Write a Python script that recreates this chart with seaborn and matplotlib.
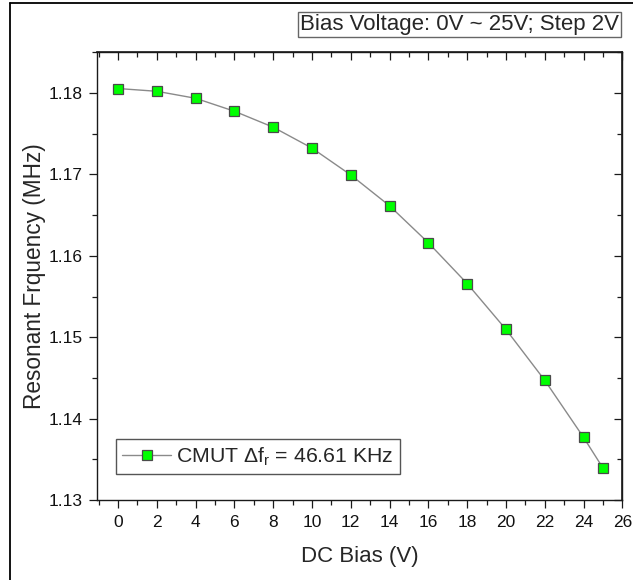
import matplotlib
matplotlib.use("Agg")
import matplotlib.pyplot as plt
from matplotlib.lines import Line2D
from matplotlib.ticker import MultipleLocator
import seaborn as sns
import pandas as pd

# ---- data ----
bias_v = [0, 2, 4, 6, 8, 10, 12, 14, 16, 18, 20, 22, 24, 25]
freq_mhz = [1.18055, 1.18021, 1.17935, 1.17776, 1.17580, 1.17323, 1.16993,
            1.16614, 1.16160, 1.15659, 1.15096, 1.14471, 1.13770, 1.13394]
x_ticks = list(range(0, 27, 2))
y_ticks = [1.13, 1.14, 1.15, 1.16, 1.17, 1.18]
legend_label = r"CMUT $\Delta\mathrm{f}_\mathrm{r}$ = 46.61 KHz"
note_text = "Bias Voltage: 0V ~ 25V; Step 2V"
x_label = "DC Bias (V)"
y_label = "Resonant Frquency (MHz)"

df = pd.DataFrame({"V": bias_v, "f": freq_mhz})

sns.set_theme(style="ticks")
plt.rcParams["font.family"] = ["Liberation Sans", "DejaVu Sans"]
plt.rcParams["mathtext.fontset"] = "custom"
plt.rcParams["mathtext.rm"] = "Liberation Sans"
plt.rcParams["mathtext.it"] = "Liberation Sans:italic"

W, H = 633, 580
fig = plt.figure(figsize=(W / 100, H / 100), dpi=100)
ax = fig.add_axes([96.7 / W, 1 - 500 / H, (622.3 - 96.7) / W, (500 - 52.3) / H])

sns.lineplot(data=df, x="V", y="f", ax=ax, color="#8a8a8a", linewidth=1.0,
             marker="s", markersize=7, markerfacecolor="#00ff00",
             markeredgecolor="#4a4a4a", markeredgewidth=0.9, label=legend_label)

ax.set_xlim(-1.1, 26)
ax.set_ylim(1.13, 1.185)
ax.set_xticks(x_ticks)
ax.set_yticks(y_ticks)
ax.set_yticklabels([f"{v:.2f}" for v in y_ticks])
ax.xaxis.set_minor_locator(MultipleLocator(1))
ax.yaxis.set_minor_locator(MultipleLocator(0.005))

for s in ax.spines.values():
    s.set_visible(True)
    s.set_linewidth(1.0)
    s.set_color("#1a1a1a")

ax.tick_params(which="both", direction="out", bottom=True, left=True,
               top=False, right=False, colors="#1a1a1a", labelsize=12.5,
               width=0.9, labelcolor="#111111")
ax.tick_params(which="major", length=6, pad=4)
ax.tick_params(which="minor", length=3.5)
ax.tick_params(axis="x", which="major", pad=5)

# inward ticks on top and right
axt = ax.secondary_xaxis("top")
axt.set_xticks(x_ticks)
axt.xaxis.set_minor_locator(MultipleLocator(1))
axt.tick_params(which="both", direction="in", labeltop=False, width=0.9, colors="#1a1a1a")
axt.tick_params(which="major", length=6)
axt.tick_params(which="minor", length=3.5)
axr = ax.secondary_yaxis("right")
axr.set_yticks(y_ticks)
axr.yaxis.set_minor_locator(MultipleLocator(0.005))
axr.tick_params(which="both", direction="in", labelright=False, width=0.9, colors="#1a1a1a")
axr.tick_params(which="major", length=6)
axr.tick_params(which="minor", length=3.5)

ax.set_xlabel(x_label, fontsize=16, labelpad=11)
ax.set_ylabel(y_label, fontsize=16.3, labelpad=2)

leg = ax.legend(loc="upper left", bbox_to_anchor=((115.7 - 96.7) / (622.3 - 96.7), (500 - 439) / (500 - 52.3)),
                fontsize=15.3, frameon=True, fancybox=False, handlelength=2.3,
                handletextpad=0.25, borderpad=0.3, borderaxespad=0)
leg.get_frame().set_edgecolor("#555555")
leg.get_frame().set_linewidth(1.0)
leg.get_frame().set_alpha(1)

fig.text(619 / W, 1 - 24.5 / H, note_text, ha="right", va="center", fontsize=16,
         bbox=dict(boxstyle="square,pad=0.1", facecolor="white", edgecolor="#666666", linewidth=1.0))

# outer frame (left and top edges of the original bordered figure)
fig.add_artist(Line2D([10 / W, 1], [1 - 3.3 / H, 1 - 3.3 / H], transform=fig.transFigure, color="black", linewidth=1.3))
fig.add_artist(Line2D([10 / W, 10 / W], [0, 1 - 3.3 / H], transform=fig.transFigure, color="black", linewidth=1.3))

fig.savefig("out.png", dpi=100)
